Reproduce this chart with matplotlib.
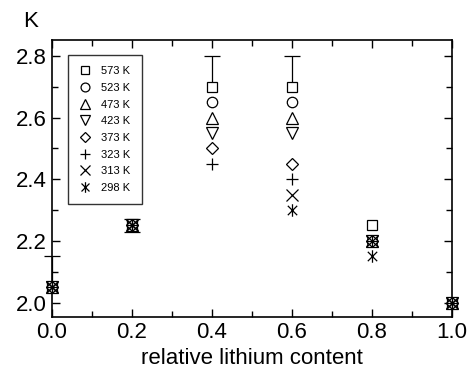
import numpy as np
import matplotlib
matplotlib.use("Agg")
import matplotlib.pyplot as plt
from matplotlib.path import Path
from matplotlib.ticker import MultipleLocator, FormatStrFormatter

plt.rcParams['font.family'] = ['Liberation Sans', 'DejaVu Sans']

x = [0.0, 0.2, 0.4, 0.6, 0.8, 1.0]
nan = np.nan

temps = ['573 K', '523 K', '473 K', '423 K', '373 K', '323 K', '313 K', '298 K']
k573 = [2.05, 2.25, 2.70, 2.70, 2.25, 2.00]
k523 = [2.05, 2.25, 2.65, 2.65, 2.20, 2.00]
k473 = [2.05, 2.25, 2.60, 2.60, 2.20, 2.00]
k423 = [2.05, 2.25, 2.55, 2.55, 2.20, 2.00]
k373 = [2.05, 2.25, 2.50, 2.45, 2.20, 2.00]
k323 = [2.05, 2.25, 2.45, 2.40, 2.20, 2.00]
k313 = [2.05, 2.25, nan, 2.35, 2.20, 2.00]
k298 = [2.05, 2.25, nan, 2.30, 2.15, 2.00]

# error bars on the 573 K points
err_lo = [0.0, 0.02, 0.0, 0.0, 0.0, 0.0]
err_hi = [0.10, 0.02, 0.10, 0.10, 0.0, 0.0]

# asterisk: vertical bar plus an x
star = Path([(0, -1), (0, 1), (-0.75, -0.75), (0.75, 0.75), (-0.75, 0.75), (0.75, -0.75)],
            [Path.MOVETO, Path.LINETO, Path.MOVETO, Path.LINETO, Path.MOVETO, Path.LINETO])

series = [k573, k523, k473, k423, k373, k323, k313, k298]
markers = ['s', 'o', '^', 'v', 'D', '+', 'x', star]
sizes = [7, 7.5, 8, 8, 6.5, 9, 8, 9]

fig = plt.figure(figsize=(4.68, 3.82), dpi=100)
ax = fig.add_axes([0.111, 0.170, 0.855, 0.725])

ax.errorbar(x, k573, yerr=[err_lo, err_hi], fmt='none', ecolor='black',
            elinewidth=0.9, capsize=0, zorder=1, clip_on=False)
# caps only where a bar actually extends
xa = np.array(x)
ya = np.array(k573)
lo = np.array(err_lo)
hi = np.array(err_hi)
ax.plot(xa[hi > 0], (ya + hi)[hi > 0], linestyle='none', marker='_', markersize=12,
        markeredgewidth=0.9, color='black', clip_on=False, zorder=1)
ax.plot(xa[lo > 0], (ya - lo)[lo > 0], linestyle='none', marker='_', markersize=12,
        markeredgewidth=0.9, color='black', clip_on=False, zorder=1)

for y, m, s, lab in zip(series, markers, sizes, temps):
    ax.plot(x, y, linestyle='none', marker=m, markersize=s, markerfacecolor='white',
            markeredgecolor='black', markeredgewidth=0.9, color='black', label=lab,
            clip_on=False, zorder=3)

ax.set_xlim(0, 1.0)
ax.set_ylim(1.953, 2.851)
ax.xaxis.set_major_locator(MultipleLocator(0.2))
ax.xaxis.set_minor_locator(MultipleLocator(0.1))
ax.yaxis.set_major_locator(MultipleLocator(0.2))
ax.yaxis.set_minor_locator(MultipleLocator(0.1))
ax.tick_params(which='both', direction='in', top=True, right=True, labelsize=16,
               width=1)
ax.tick_params(which='major', length=6)
ax.tick_params(which='minor', length=4)
ax.xaxis.set_major_formatter(FormatStrFormatter('%.1f'))
ax.yaxis.set_major_formatter(FormatStrFormatter('%.1f'))
for sp in ax.spines.values():
    sp.set_linewidth(1.2)

ax.set_xlabel('relative lithium content', fontsize=16, labelpad=4)
fig.text(0.065, 0.945, 'K', fontsize=16, ha='center', va='center')

leg = ax.legend(loc='upper left', bbox_to_anchor=(0.04, 0.946), fontsize=8,
                frameon=True, fancybox=False, edgecolor='black', handlelength=1.0,
                handletextpad=1.0, labelspacing=0.6, borderpad=1.0, borderaxespad=0,
                markerscale=0.85)
leg.get_frame().set_linewidth(1.0)

fig.savefig('out.png', dpi=100)
